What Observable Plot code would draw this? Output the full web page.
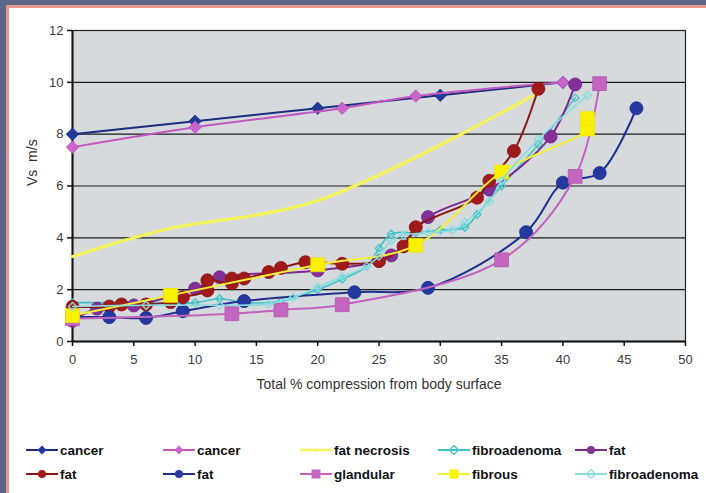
<!DOCTYPE html>
<html>
<head>
<meta charset="utf-8">
<script src="https://cdn.jsdelivr.net/npm/d3@7"></script>
<script src="https://cdn.jsdelivr.net/npm/@observablehq/plot@0.6"></script>
<style>
  html, body { margin: 0; padding: 0; }
  body { width: 706px; height: 493px; background: #5b6688; position: relative; overflow: hidden; font-family: "Liberation Sans", Arial, sans-serif; }
  #border { position: absolute; left: 6px; top: 5px; right: 0; bottom: 0; background: #e79b8e; }
  #panel { position: absolute; left: 9px; top: 8px; right: 0; bottom: 0; background: #fff; }
  #chart { position: absolute; left: 0; top: 0; }
  .leg { position: absolute; display: flex; align-items: center; font-weight: bold; font-size: 13.5px; color: #111; white-space: nowrap; }
  .leg svg { margin-right: 2px; }
</style>
</head>
<body>
<div id="border"></div>
<div id="panel"><div id="chart"></div><div id="legend"></div></div>
<script>
// ---- data ----
const xTicks = [0, 5, 10, 15, 20, 25, 30, 35, 40, 45, 50];
const yTicks = [0, 2, 4, 6, 8, 10, 12];
const xLabel = "Total % compression from body surface";
const yLabel = "Vs  m/s";

const seriesLabels = ["cancer", "cancer", "fat necrosis", "fibroadenoma", "fat",
                      "fat", "fat", "glandular", "fibrous", "fibroadenoma"];

const cancer1X = [0, 10, 20, 30, 40];
const cancer1Y = [8.0, 8.5, 9.0, 9.5, 10.0];
const cancer2X = [0, 10, 22, 28, 40];
const cancer2Y = [7.5, 8.27, 9.0, 9.47, 10.0];
const necrosisX = [0, 5, 8, 20, 38];
const necrosisY = [3.28, 4.0, 4.37, 5.44, 9.6];
const fibroad1X = [0, 5, 10, 12, 14, 17, 20, 22, 24, 25, 26, 28, 30, 32, 33, 35, 38, 41];
const fibroad1Y = [1.5, 1.5, 1.5, 1.65, 1.5, 1.55, 2.0, 2.4, 2.9, 3.6, 4.15, 4.2, 4.3, 4.4, 4.9, 6.0, 7.6, 9.4];
const fatPurpleX = [0, 2, 5, 10, 12, 20, 26, 29, 34, 39, 41];
const fatPurpleY = [0.8, 1.27, 1.39, 2.04, 2.48, 2.74, 3.32, 4.8, 5.86, 7.91, 9.92];
const fatRedX = [0, 3, 4, 6, 8, 9, 11, 11, 13, 13, 14, 16, 17, 19, 22, 25, 27, 28, 33, 34, 36, 38];
const fatRedY = [1.34, 1.35, 1.43, 1.43, 1.52, 1.71, 1.97, 2.36, 2.24, 2.43, 2.43, 2.68, 2.84, 3.06, 3.0, 3.1, 3.67, 4.41, 5.55, 6.2, 7.35, 9.75];
const fatNavyX = [0, 3, 6, 9, 14, 23, 29, 37, 40, 43, 46];
const fatNavyY = [0.95, 0.94, 0.91, 1.17, 1.56, 1.9, 2.07, 4.22, 6.13, 6.5, 9.0];
const glandularX = [0, 13, 17, 22, 35, 41, 43];
const glandularY = [0.88, 1.07, 1.22, 1.42, 3.15, 6.37, 9.95];
const fibrousX = [0, 8, 20, 28, 35, 42, 42];
const fibrousY = [1.0, 1.78, 2.96, 3.71, 6.54, 8.2, 8.6];
const fibroad2X = [0, 6, 12, 16, 18, 20, 22, 24, 25, 26, 27, 29, 31, 32, 34, 35, 38, 42];
const fibroad2Y = [1.35, 1.4, 1.4, 1.45, 1.7, 2.1, 2.5, 2.9, 3.3, 3.9, 4.1, 4.2, 4.3, 4.6, 5.4, 6.2, 7.8, 9.5];

const seriesXs = [cancer1X, cancer2X, necrosisX, fibroad1X, fatPurpleX, fatRedX, fatNavyX, glandularX, fibrousX, fibroad2X];
const seriesYs = [cancer1Y, cancer2Y, necrosisY, fibroad1Y, fatPurpleY, fatRedY, fatNavyY, glandularY, fibrousY, fibroad2Y];

// ---- styles ----
const styles = [
  {line: "#1b2f7e", fill: "#22399a", stroke: "#1b2f7e", symbol: "diamond2", r: 5.6, w: 2},
  {line: "#c257c2", fill: "#cc66cc", stroke: "#b850b8", symbol: "diamond2", r: 5.6, w: 2},
  {line: "#f4f35a", fill: "#f4f35a", stroke: "none", symbol: "square", r: 1.3, w: 3.2},
  {line: "#3cc3c8", fill: "none", stroke: "#3cc3c8", symbol: "diamond2", r: 3.4, w: 1.6},
  {line: "#7b2a8e", fill: "#83309a", stroke: "#6e2280", symbol: "circle", r: 6.5, w: 2},
  {line: "#8f1414", fill: "#a01a1a", stroke: "#861010", symbol: "circle", r: 6.5, w: 2},
  {line: "#1f2f90", fill: "#2438a0", stroke: "#1b2b88", symbol: "circle", r: 6.5, w: 2},
  {line: "#c262be", fill: "#c466c0", stroke: "#b058ae", symbol: "square", r: 7.8, w: 2},
  {line: "#f5ef3a", fill: "#fbf000", stroke: "#f0e400", symbol: "square", r: 7.8, w: 2},
  {line: "#86dde0", fill: "none", stroke: "#86dde0", symbol: "diamond2", r: 3.6, w: 1.6}
];

const rows = [];
seriesXs.forEach((xs, i) => xs.forEach((x, j) => rows.push({s: i, x, y: seriesYs[i][j]})));

const marks = [
  Plot.frame({fill: "#d7dadd"}),
  Plot.ruleY(yTicks.slice(1), {stroke: "#1a1a1a", strokeWidth: 1.2}),
  Plot.frame({stroke: "#222", strokeWidth: 1.2}),
  Plot.ruleX([0], {stroke: "#111", strokeWidth: 2}),
  Plot.ruleY([0], {stroke: "#111", strokeWidth: 2}),
  Plot.axisX({ticks: xTicks, tickSize: 5, tickPadding: 8, label: null, stroke: "#111", strokeWidth: 1.5, fill: "#3a3a3a"}),
  Plot.axisY({ticks: yTicks, tickSize: 5, tickPadding: 4, label: null, stroke: "#111", strokeWidth: 1.5, fill: "#3a3a3a"}),
  Plot.text([xLabel], {frameAnchor: "bottom", dy: 47, fontSize: 14, fill: "#333"}),
  Plot.text([yLabel], {frameAnchor: "left", dx: -40, rotate: -90, fontSize: 14, fill: "#333"})
];
styles.forEach((st, i) => {
  const d = rows.filter(r => r.s === i);
  marks.push(Plot.line(d, {x: "x", y: "y", stroke: st.line, strokeWidth: st.w, curve: "catmull-rom"}));
  marks.push(Plot.dot(d, {x: "x", y: "y", symbol: st.symbol, r: st.r, fill: st.fill, stroke: st.stroke, strokeWidth: st.fill === "none" ? 1.3 : 0.8}));
});

const chart = Plot.plot({
  width: 697,
  height: 400,
  marginLeft: 63,
  marginRight: 21,
  marginTop: 22,
  marginBottom: 67,
  x: {domain: [0, 50]},
  y: {domain: [0, 12]},
  style: {fontFamily: "'Liberation Sans', Arial, sans-serif", fontSize: "13px", color: "#333", background: "transparent", overflow: "visible"},
  marks
});
document.getElementById("chart").appendChild(chart);

// ---- legend ----
const legLefts = [17, 154, 291, 429, 566];
const legTops = [442, 466];
const legend = document.getElementById("legend");
seriesLabels.forEach((lab, i) => {
  const st = styles[i];
  const col = i % 5, row = Math.floor(i / 5);
  const div = document.createElement("div");
  div.className = "leg";
  div.style.left = legLefts[col] + "px";
  div.style.top = (legTops[row] - 8) + "px";
  div.style.height = "16px";
  const w = 32;
  const sym = st.symbol;
  const sz = sym === "circle" ? 4 : sym === "square" ? (i === 2 ? 1.5 : 4.5) : 4.5;
  let m = "";
  if (sym === "circle") m = `<circle cx="${w/2}" cy="8" r="${sz}" fill="${st.fill}"/>`;
  else if (sym === "square") m = `<rect x="${w/2 - sz}" y="${8 - sz}" width="${2*sz}" height="${2*sz}" fill="${st.fill}"/>`;
  else m = `<path d="M${w/2},${8-sz}L${w/2+sz},8L${w/2},${8+sz}L${w/2-sz},8Z" fill="${st.fill === "none" ? "none" : st.fill}" stroke="${st.fill === "none" ? st.stroke : "none"}" stroke-width="1.2"/>`;
  div.innerHTML = `<svg width="${w}" height="16"><line x1="0" y1="8" x2="${w}" y2="8" stroke="${st.line}" stroke-width="${i===2?2.5:2}"/>${m}</svg><span>${lab}</span>`;
  legend.appendChild(div);
});
</script>
</body>
</html>
